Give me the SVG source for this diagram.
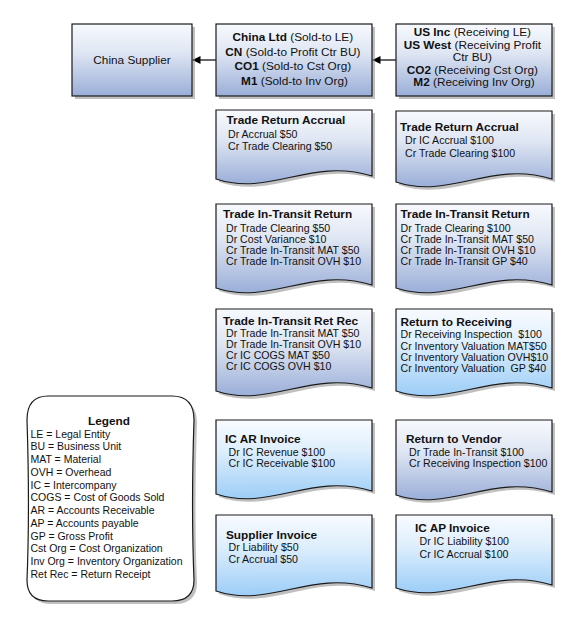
<svg xmlns="http://www.w3.org/2000/svg" width="576" height="624" viewBox="0 0 576 624">
<defs>
  <linearGradient id="gBlue" x1="0" y1="0" x2="0" y2="1">
    <stop offset="0" stop-color="#f7f9fd"/>
    <stop offset="0.4" stop-color="#dfe6f3"/>
    <stop offset="1" stop-color="#9aaed8"/>
  </linearGradient>
  <linearGradient id="gSky" x1="0" y1="0" x2="0" y2="1">
    <stop offset="0" stop-color="#f8fbff"/>
    <stop offset="0.4" stop-color="#ddeefc"/>
    <stop offset="1" stop-color="#9ccdf7"/>
  </linearGradient>
  <marker id="arr" viewBox="0 0 10 10" refX="10" refY="5" markerWidth="8" markerHeight="8" markerUnits="userSpaceOnUse" orient="auto">
    <path d="M0,0 L10,5 L0,10 Z" fill="#000"/>
  </marker>
</defs>
<style>
  .box { stroke: #1a1a1a; stroke-width: 1.2; }
  .blue { fill: url(#gBlue); }
  .sky { fill: url(#gSky); }
  .shadow { fill: #8c8c8c; opacity: 0.55; }
  text { font-family: "Liberation Sans", Arial, sans-serif; fill: #111; }
  .hdr { font-size: 11.8px; }
  .ttl { font-size: 11.8px; font-weight: bold; }
  .body { font-size: 10.6px; }
  .leg { font-size: 10.5px; }
  .b { font-weight: bold; }
  .conn { stroke: #000; stroke-width: 1.2; fill: none; }
</style>
<rect width="576" height="624" fill="#ffffff"/>

<g id="connectors">
  <line class="conn" x1="216" y1="60" x2="192.5" y2="60" marker-end="url(#arr)"/>
  <line class="conn" x1="396" y1="60" x2="372.5" y2="60" marker-end="url(#arr)"/>
</g>

<g id="china-supplier">
  <rect class="shadow" x="75" y="27" width="120" height="72"/>
  <rect class="box blue" x="72" y="24" width="120" height="72"/>
  <text class="hdr" x="132" y="64" text-anchor="middle">China Supplier</text>
</g>

<g id="china-ltd">
  <rect class="shadow" x="219" y="27" width="156" height="72"/>
  <rect class="box blue" x="216" y="24" width="156" height="72"/>
  <text class="hdr" text-anchor="middle">
    <tspan x="294.5" y="41"><tspan class="b">China Ltd</tspan> (Sold-to LE)</tspan>
    <tspan x="294.5" y="55.5"><tspan class="b">CN</tspan> (Sold-to Profit Ctr BU)</tspan>
    <tspan x="294.5" y="70"><tspan class="b">CO1</tspan> (Sold-to Cst Org)</tspan>
    <tspan x="294.5" y="84.5"><tspan class="b">M1</tspan> (Sold-to Inv Org)</tspan>
  </text>
</g>

<g id="us-inc">
  <rect class="shadow" x="399" y="27" width="156" height="72"/>
  <rect class="box blue" x="396" y="24" width="156" height="72"/>
  <text class="hdr" text-anchor="middle">
    <tspan x="474" y="36"><tspan class="b">US Inc</tspan> (Receiving LE)</tspan>
    <tspan x="474" y="48.5"><tspan class="b">US West</tspan> (Receiving Profit</tspan>
    <tspan x="474" y="61">Ctr BU)</tspan>
    <tspan x="474" y="73.5"><tspan class="b">CO2</tspan> (Receiving Cst Org)</tspan>
    <tspan x="474" y="86"><tspan class="b">M2</tspan> (Receiving Inv Org)</tspan>
  </text>
</g>

<!-- Row 1 -->
<g id="trade-return-accrual-left">
  <path class="shadow" transform="translate(3,3)" d="M216,110 H372 V176 C309.6,157 270.6,197 216,179 Z"/>
  <path class="box blue" d="M216,110 H372 V176 C309.6,157 270.6,197 216,179 Z"/>
  <text class="ttl" x="226.5" y="124">Trade Return Accrual</text>
  <text class="body"><tspan x="228" y="137.5">Dr Accrual $50</tspan><tspan x="228" y="149.5">Cr Trade Clearing $50</tspan></text>
</g>
<g id="trade-return-accrual-right">
  <path class="shadow" transform="translate(3,3)" d="M396,111 H552 V179 C489.6,160 450.6,200 396,182 Z"/>
  <path class="box blue" d="M396,111 H552 V179 C489.6,160 450.6,200 396,182 Z"/>
  <text class="ttl" x="400" y="131">Trade Return Accrual</text>
  <text class="body"><tspan x="405" y="144">Dr IC Accrual $100</tspan><tspan x="405" y="157">Cr Trade Clearing $100</tspan></text>
</g>

<!-- Row 2 -->
<g id="trade-in-transit-return-left">
  <path class="shadow" transform="translate(3,3)" d="M216,204 H372 V285 C309.6,266 270.6,306 216,288 Z"/>
  <path class="box blue" d="M216,204 H372 V285 C309.6,266 270.6,306 216,288 Z"/>
  <text class="ttl" x="223" y="218">Trade In-Transit Return</text>
  <text class="body">
    <tspan x="226" y="231.5">Dr Trade Clearing $50</tspan>
    <tspan x="226" y="242.5">Dr Cost Variance $10</tspan>
    <tspan x="226" y="254">Cr Trade In-Transit MAT $50</tspan>
    <tspan x="226" y="265">Cr Trade In-Transit OVH $10</tspan>
  </text>
</g>
<g id="trade-in-transit-return-right">
  <path class="shadow" transform="translate(3,3)" d="M396,204 H552 V285 C489.6,266 450.6,306 396,288 Z"/>
  <path class="box blue" d="M396,204 H552 V285 C489.6,266 450.6,306 396,288 Z"/>
  <text class="ttl" x="400.5" y="218">Trade In-Transit Return</text>
  <text class="body">
    <tspan x="400.5" y="231.5">Dr Trade Clearing $100</tspan>
    <tspan x="400.5" y="242.5">Cr Trade In-Transit MAT $50</tspan>
    <tspan x="400.5" y="254">Cr Trade In-Transit OVH $10</tspan>
    <tspan x="400.5" y="265">Cr Trade In-Transit GP $40</tspan>
  </text>
</g>

<!-- Row 3 -->
<g id="trade-in-transit-ret-rec">
  <path class="shadow" transform="translate(3,3)" d="M216,309 H372 V388 C309.6,369 270.6,409 216,391 Z"/>
  <path class="box blue" d="M216,309 H372 V388 C309.6,369 270.6,409 216,391 Z"/>
  <text class="ttl" x="223" y="325">Trade In-Transit Ret Rec</text>
  <text class="body">
    <tspan x="226" y="337">Dr Trade In-Transit MAT $50</tspan>
    <tspan x="226" y="348">Dr Trade In-Transit OVH $10</tspan>
    <tspan x="226" y="359">Cr IC COGS MAT $50</tspan>
    <tspan x="226" y="370">Cr IC COGS OVH $10</tspan>
  </text>
</g>
<g id="return-to-receiving">
  <path class="shadow" transform="translate(3,3)" d="M396,309 H552 V388 C489.6,369 450.6,409 396,391 Z"/>
  <path class="box sky" d="M396,309 H552 V388 C489.6,369 450.6,409 396,391 Z"/>
  <text class="ttl" x="400.5" y="325.5">Return to Receiving</text>
  <text class="body">
    <tspan x="400.5" y="337.5">Dr Receiving Inspection&#160; $100</tspan>
    <tspan x="400.5" y="349.5">Cr Inventory Valuation MAT$50</tspan>
    <tspan x="400.5" y="360.5">Cr Inventory Valuation OVH$10</tspan>
    <tspan x="400.5" y="371.5">Cr Inventory Valuation&#160; GP $40</tspan>
  </text>
</g>

<!-- Row 4 -->
<g id="ic-ar-invoice">
  <path class="shadow" transform="translate(3,3)" d="M216,420 H372 V491 C309.6,472 270.6,512 216,494 Z"/>
  <path class="box sky" d="M216,420 H372 V491 C309.6,472 270.6,512 216,494 Z"/>
  <text class="ttl" x="225" y="442.5">IC AR Invoice</text>
  <text class="body"><tspan x="228.5" y="456">Dr IC Revenue $100</tspan><tspan x="228.5" y="467">Cr IC Receivable $100</tspan></text>
</g>
<g id="return-to-vendor">
  <path class="shadow" transform="translate(3,3)" d="M396,420 H552 V492 C489.6,473 450.6,513 396,495 Z"/>
  <path class="box blue" d="M396,420 H552 V492 C489.6,473 450.6,513 396,495 Z"/>
  <text class="ttl" x="406" y="442.5">Return to Vendor</text>
  <text class="body"><tspan x="409" y="456">Dr Trade In-Transit $100</tspan><tspan x="409" y="467">Cr Receiving Inspection $100</tspan></text>
</g>

<!-- Row 5 -->
<g id="supplier-invoice">
  <path class="shadow" transform="translate(3,3)" d="M216,515 H372 V588 C309.6,569 270.6,609 216,591 Z"/>
  <path class="box sky" d="M216,515 H372 V588 C309.6,569 270.6,609 216,591 Z"/>
  <text class="ttl" x="226" y="538.5">Supplier Invoice</text>
  <text class="body"><tspan x="228.5" y="551">Dr Liability $50</tspan><tspan x="228.5" y="562.5">Cr Accrual $50</tspan></text>
</g>
<g id="ic-ap-invoice">
  <path class="shadow" transform="translate(3,3)" d="M396,515 H552 V585 C489.6,566 450.6,606 396,588 Z"/>
  <path class="box sky" d="M396,515 H552 V585 C489.6,566 450.6,606 396,588 Z"/>
  <text class="ttl" x="415" y="532">IC AP Invoice</text>
  <text class="body"><tspan x="419.5" y="544.5">Dr IC Liability $100</tspan><tspan x="419.5" y="557.5">Cr IC Accrual $100</tspan></text>
</g>

<!-- Legend -->
<g id="legend">
  <path class="shadow" transform="translate(3,3)" d="M48,396 H172 C186,396 194,404 194,420 C192,480 192,530 194,580 C194,594 186,601 172,601 H48 C34,601 27,594 27,580 C29,530 29,480 27,420 C27,404 34,396 48,396 Z"/>
  <path d="M48,396 H172 C186,396 194,404 194,420 C192,480 192,530 194,580 C194,594 186,601 172,601 H48 C34,601 27,594 27,580 C29,530 29,480 27,420 C27,404 34,396 48,396 Z" fill="#ffffff" stroke="#1a1a1a" stroke-width="1.2"/>
  <text class="ttl" x="109" y="425" text-anchor="middle">Legend</text>
  <text class="leg">
    <tspan x="30.5" y="437.5">LE = Legal Entity</tspan>
    <tspan x="30.5" y="450.3">BU = Business Unit</tspan>
    <tspan x="30.5" y="463">MAT = Material</tspan>
    <tspan x="30.5" y="475.8">OVH = Overhead</tspan>
    <tspan x="30.5" y="488.5">IC = Intercompany</tspan>
    <tspan x="30.5" y="501.3">COGS = Cost of Goods Sold</tspan>
    <tspan x="30.5" y="514">AR = Accounts Receivable</tspan>
    <tspan x="30.5" y="526.8">AP = Accounts payable</tspan>
    <tspan x="30.5" y="539.5">GP = Gross Profit</tspan>
    <tspan x="30.5" y="552.3">Cst Org = Cost Organization</tspan>
    <tspan x="30.5" y="565">Inv Org = Inventory Organization</tspan>
    <tspan x="30.5" y="577.8">Ret Rec = Return Receipt</tspan>
  </text>
</g>
</svg>
